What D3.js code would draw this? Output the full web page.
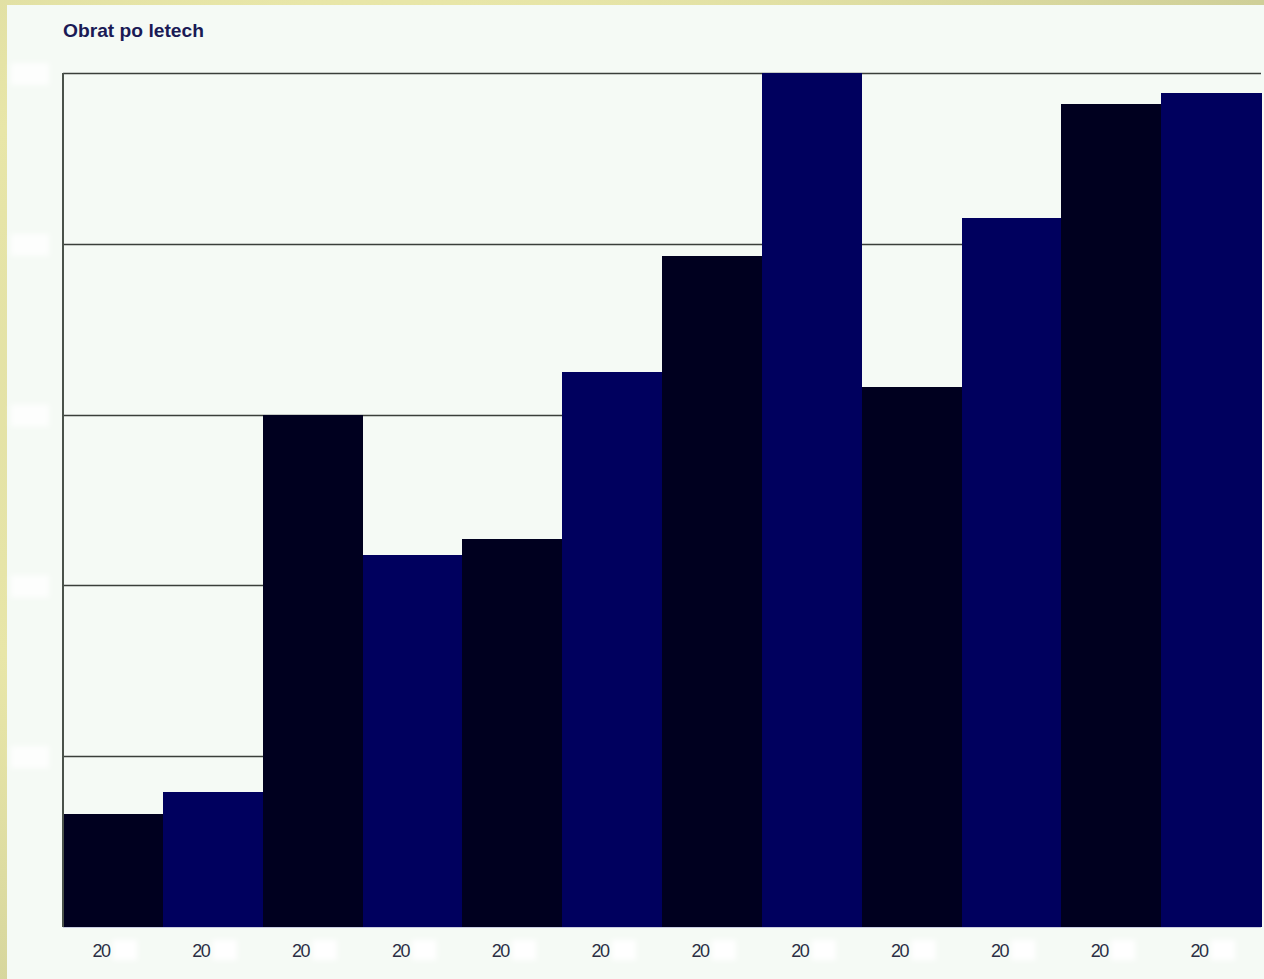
<!DOCTYPE html>
<html>
<head>
<meta charset="utf-8">
<script src="https://cdn.jsdelivr.net/npm/d3@7"></script>
<style>
html,body{margin:0;padding:0;width:1264px;height:979px;overflow:hidden;background:#e4e2a6;}
svg{display:block;}
</style>
</head>
<body>
<svg id="chart" width="1264" height="979"></svg>
<script>
const title = "Obrat po letech";
const categories = ["20","20","20","20","20","20","20","20","20","20","20","20"];
const values = [0.66, 0.79, 3.0, 2.18, 2.27, 3.25, 3.93, 5.0, 3.16, 4.15, 4.82, 4.88];
const yTicks = [0, 1, 2, 3, 4, 5];
const barColors = ["#00001f", "#00005e"];

const svg = d3.select("#chart");
const W = 1264, H = 979;
const m = {left: 63, top: 73, right: 1261, bottom: 927};

const defs = svg.append("defs");
const rg = defs.append("radialGradient").attr("id","bgG").attr("cx","30%").attr("cy","40%").attr("r","80%");
rg.append("stop").attr("offset","0%").attr("stop-color","#d8d8a0");
rg.append("stop").attr("offset","50%").attr("stop-color","#e8e6a8");
rg.append("stop").attr("offset","100%").attr("stop-color","#cfcf98");
defs.append("filter").attr("id","blur").attr("x","-30%").attr("y","-30%").attr("width","160%").attr("height","160%")
  .append("feGaussianBlur").attr("stdDeviation",2.5);
svg.append("rect").attr("width",W).attr("height",H).attr("fill","url(#bgG)");

// panel
svg.append("rect").attr("x",7).attr("y",5).attr("width",W-7).attr("height",H-5).attr("fill","#f5faf5");

// title
svg.append("text").attr("x",63).attr("y",37)
  .attr("font-family","'Liberation Sans',Arial,sans-serif")
  .attr("font-weight","bold").attr("font-size",19).attr("fill","#1a1a55")
  .attr("textLength",141).attr("lengthAdjust","spacingAndGlyphs").text(title);

const x = d3.scaleBand().domain(d3.range(values.length)).range([m.left, m.right]).padding(0);
const y = d3.scaleLinear().domain([0,5]).range([m.bottom, m.top]);

// gridlines
svg.append("g").selectAll("line").data(yTicks.slice(1)).join("line")
  .attr("x1",m.left).attr("x2",m.right)
  .attr("y1",d=>Math.round(y(d))+0.5).attr("y2",d=>Math.round(y(d))+0.5)
  .attr("stroke","#3a3f3a").attr("stroke-width",1.3);

// masked y labels (soft white blotches)
svg.append("g").attr("filter","url(#blur)").selectAll("rect").data(yTicks.slice(1)).join("rect")
  .attr("x",11).attr("y",d=>y(d)-10).attr("width",38).attr("height",22)
  .attr("fill","#ffffff").attr("opacity",0.8);

// bars
svg.append("g").attr("shape-rendering","crispEdges").selectAll("rect").data(values).join("rect")
  .attr("x",(d,i)=>x(i)).attr("width",x.bandwidth()+0.5)
  .attr("y",d=>y(d)).attr("height",d=>m.bottom-y(d))
  .attr("fill",(d,i)=>barColors[i%2]);

// left axis
svg.append("line").attr("x1",m.left).attr("x2",m.left).attr("y1",m.top).attr("y2",m.bottom)
  .attr("stroke","#4a524a").attr("stroke-width",2);
svg.append("line").attr("x1",m.left).attr("x2",m.right).attr("y1",m.bottom+0.5).attr("y2",m.bottom+0.5)
  .attr("stroke","#c8cce0").attr("stroke-width",1);

// x labels
const xl = svg.append("g").selectAll("g").data(categories).join("g")
  .attr("transform",(d,i)=>`translate(${x(i)+x.bandwidth()/2-12},0)`);
xl.append("rect").attr("x",12).attr("y",940).attr("width",24).attr("height",20)
  .attr("fill","#ffffff").attr("filter","url(#blur)");
xl.append("text").attr("x",0).attr("y",957).attr("text-anchor","middle")
  .attr("font-family","'Liberation Sans',Arial,sans-serif").attr("font-size",18)
  .attr("letter-spacing","-1.5").attr("fill","#2a2e44").text(d=>d);
</script>
</body>
</html>
